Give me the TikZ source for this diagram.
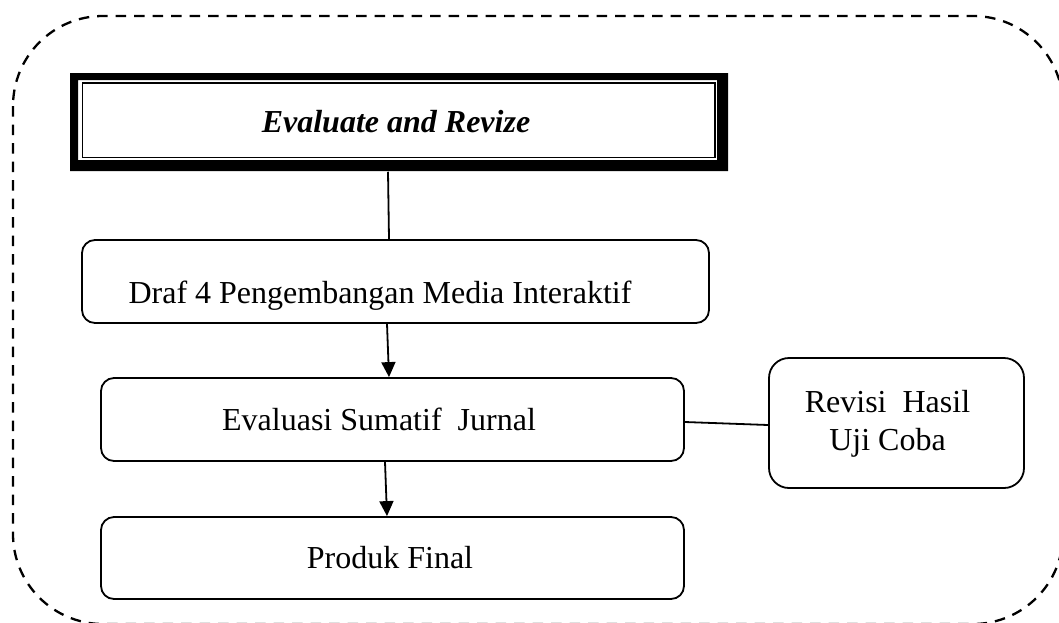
\documentclass[tikz,border=0pt]{standalone}
\usepackage{fontspec}
\setmainfont{Liberation Serif}
\usetikzlibrary{arrows.meta,calc}
\begin{document}
\begin{tikzpicture}[x=1pt,y=-1pt,
  txt/.style={font=\fontsize{32}{38}\selectfont, inner sep=0pt, anchor=base},
  rbox/.style={draw, line width=1.8pt, rounded corners=13pt, inner sep=0pt},
  conn/.style={line width=1.8pt},
  arr/.style={line width=1.8pt, -{Triangle[length=15pt,width=14pt]}},
  frame/.style={line width=2.3pt, dash pattern=on 10.5pt off 8pt, rounded corners=90pt}
]
\useasboundingbox (0,0) rectangle (1059,622);
\clip (0,0) rectangle (1059,622);
\fill[white] (0,0) rectangle (1059,622);

% dashed outer frame
\draw[frame] (13,16) rectangle (1063,624);

% Evaluate and Revize box (thick frame + thin inner line)
\fill[black, even odd rule] (70,73) rectangle (728,171) (78,80) rectangle (717,160);
\node[draw, line width=1.5pt, minimum width=632.5pt, minimum height=74.5pt, inner sep=0pt] (eval) at (398.75,120.25) {};
\node[txt] (evalt) at (396,132) {\bfseries\itshape Evaluate and Revize};

% boxes
\node[rbox, minimum width=627pt, minimum height=83pt] (draf) at (395.5,281.5) {};
\node[txt] (draft) at (380,303) {Draf 4 Pengembangan Media Interaktif};

\node[rbox, minimum width=583pt, minimum height=83pt] (evs) at (392.5,419.5) {};
\node[txt] (evst) at (379,430) {Evaluasi Sumatif~ Jurnal};

\node[rbox, minimum width=583pt, minimum height=82pt] (prod) at (392.5,558) {};
\node[txt] (prodt) at (390,568) {Produk Final};

\node[rbox, rounded corners=20pt, minimum width=255pt, minimum height=130pt] (rev) at (896.5,423) {};
\node[txt] (revt1) at (887.5,412) {Revisi~ Hasil};
\node[txt] (revt2) at (887.5,450) {Uji Coba};

% connectors
\draw[conn] ([xshift=-10.75pt,yshift=-13.5pt]eval.south) -- ([xshift=-6.5pt]draf.north);
\draw[arr] ([xshift=-8.5pt]draf.south) -- ([xshift=-3.5pt]evs.north);
\draw[arr] ([xshift=-7.5pt]evs.south) -- ([xshift=-5.5pt]prod.north);
\draw[conn] ([yshift=-2.5pt]evs.east) -- ([yshift=-2pt]rev.west);
\end{tikzpicture}
\end{document}
